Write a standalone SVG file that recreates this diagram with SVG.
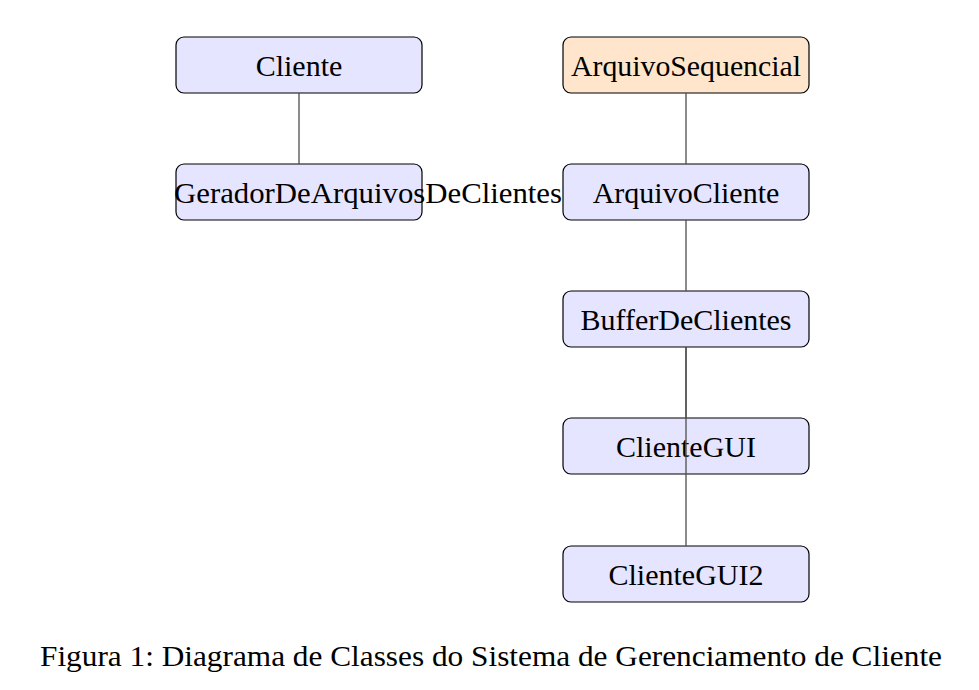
<svg xmlns="http://www.w3.org/2000/svg" width="979" height="690" viewBox="0 0 979 690">
<style>
.box{stroke:#000;stroke-width:1.2}
.blue{fill:#e5e5ff}
.orange{fill:#ffe5cc}
.t{font-family:"Liberation Serif","DejaVu Serif",serif;font-size:30px;fill:#000}
.c{text-anchor:middle}
.conn line{stroke:#4d4d4d;stroke-width:1.3}
</style>
<rect width="979" height="690" fill="#fff"/>
<g id="Cliente"><rect class="box blue" x="176" y="37" width="246" height="56" rx="8"/><text class="t c" x="299" y="76">Cliente</text></g>
<g id="ArquivoSequencial"><rect class="box orange" x="563" y="37" width="246" height="56" rx="8"/><text class="t c" x="686" y="76" textLength="230" lengthAdjust="spacingAndGlyphs">ArquivoSequencial</text></g>
<g id="GeradorDeArquivosDeClientes"><rect class="box blue" x="176" y="164" width="246" height="56" rx="8"/></g>
<g id="ArquivoCliente"><rect class="box blue" x="563" y="164" width="246" height="56" rx="8"/><text class="t c" x="686" y="203">ArquivoCliente</text></g>
<g id="GeradorText"><text class="t" x="174" y="203" textLength="388" lengthAdjust="spacingAndGlyphs">GeradorDeArquivosDeClientes</text></g>
<g id="BufferDeClientes"><rect class="box blue" x="563" y="291" width="246" height="56" rx="8"/><text class="t c" x="686" y="330">BufferDeClientes</text></g>
<g id="ClienteGUI"><rect class="box blue" x="563" y="418" width="246" height="56" rx="8"/><text class="t c" x="686" y="457">ClienteGUI</text></g>
<g id="ClienteGUI2"><rect class="box blue" x="563" y="546" width="246" height="56" rx="8"/><text class="t c" x="686" y="585">ClienteGUI2</text></g>
<g class="conn" id="connectors">
<line x1="299" y1="93" x2="299" y2="164"/>
<line x1="686" y1="93" x2="686" y2="164"/>
<line x1="686" y1="220" x2="686" y2="291"/>
<line x1="686" y1="347" x2="686" y2="418"/>
<line x1="686" y1="347" x2="686" y2="546"/>
</g>
<text class="t c" x="491" y="666" font-size="28" textLength="902" lengthAdjust="spacingAndGlyphs">Figura 1: Diagrama de Classes do Sistema de Gerenciamento de Cliente</text>
</svg>
